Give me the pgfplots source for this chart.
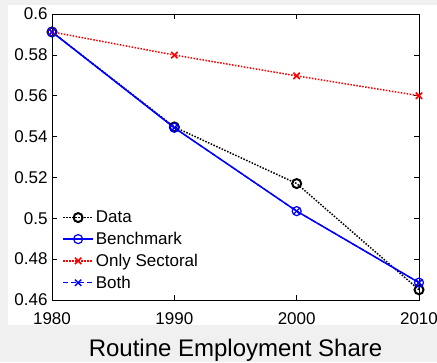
\documentclass[border=0pt]{standalone}
\usepackage{pgfplots}
\pgfplotsset{compat=1.18}
\usepackage{fontspec}
\setmainfont{Liberation Sans}
\definecolor{figgray}{RGB}{240,240,240}
\begin{document}
\begin{tikzpicture}[x=1pt,y=1pt]
\fill[figgray] (0,0) rectangle (437,362);
\fill[white] (8,37) rectangle (437,357);
\begin{axis}[
  at={(52pt,62pt)}, anchor=south west,
  scale only axis, width=367pt, height=286pt,
  xmin=1980, xmax=2010, ymin=0.46, ymax=0.6,
  xtick={1980,1990,2000,2010},
  ytick={0.46,0.48,0.5,0.52,0.54,0.56,0.58,0.6},
  yticklabels={0.46,0.48,0.5,0.52,0.54,0.56,0.58,0.6},
  xticklabels={1980,1990,2000,2010},
  tick align=inside, major tick length=5pt,
  tick style={black, line width=0.6pt},
  axis line style={line width=0.6pt},
  ticklabel style={font=\fontsize{17}{20}\selectfont},
  xticklabel style={yshift=-9pt},
  yticklabel style={xshift=-1pt},
  xlabel={Routine Employment Share},
  xlabel style={font=\fontsize{24}{28}\selectfont, yshift=-8pt},
  legend cell align=left,
  legend style={at={(0.025,0.025)}, anchor=south west, draw=none, fill=white,
    font=\fontsize{17}{20}\selectfont, row sep=4pt, inner sep=1pt},
  legend image code/.code={\draw[mark repeat=2,mark phase=2] plot coordinates {(0pt,0pt) (15pt,0pt) (30pt,0pt)};},
]
\addplot[black, line width=1.5pt, dash pattern=on 1.5pt off 1.5pt, mark=o, mark size=4.5pt, mark options={solid, line width=2pt}]
  coordinates {(1980,0.5912) (1990,0.5447) (2000,0.5170) (2010,0.4650)};
\addlegendentry{Data}
\addplot[blue, line width=1.5pt, mark=o, mark size=4.5pt, mark options={solid, line width=1.2pt}]
  coordinates {(1980,0.5912) (1990,0.5443) (2000,0.5035) (2010,0.4685)};
\addlegendentry{Benchmark}
\addplot[red, line width=1.5pt, dash pattern=on 1.5pt off 1.5pt, mark=x, mark size=4.5pt, mark options={solid, line width=1.6pt}]
  coordinates {(1980,0.5912) (1990,0.5799) (2000,0.5697) (2010,0.5600)};
\addlegendentry{Only Sectoral}
\addplot[blue, line width=1.2pt, dash pattern=on 5pt off 3pt, mark=x, mark size=4.5pt, mark options={solid, line width=1.3pt}]
  coordinates {(1980,0.5912) (1990,0.5443) (2000,0.5035) (2010,0.4685)};
\addlegendentry{Both}
\end{axis}
\pgfresetboundingbox
\path (0,0) rectangle (437,362);
\end{tikzpicture}
\end{document}
